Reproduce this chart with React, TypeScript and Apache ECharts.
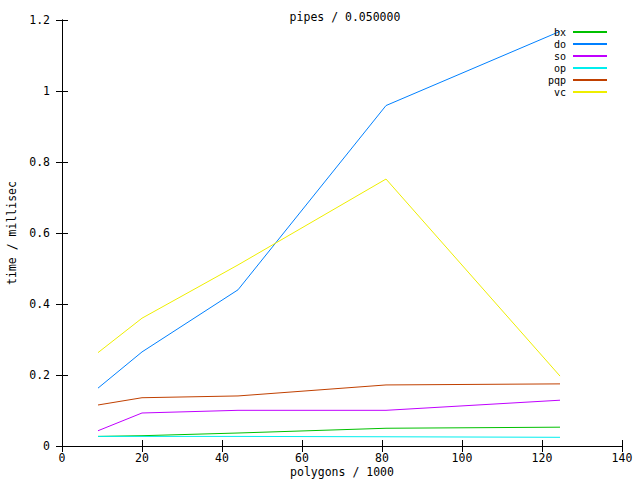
import React, { useEffect, useRef } from "react";
import * as echarts from "echarts";

const xValues = [9, 20, 44, 81, 124.5];
const seriesNames = ["bx", "do", "so", "op", "pqp", "vc"];
const bx = [0.027, 0.029, 0.0366, 0.05, 0.053];
const doVals = [0.163, 0.265, 0.44, 0.959, 1.168];
const so = [0.043, 0.093, 0.1005, 0.1005, 0.129];
const op = [0.027, 0.027, 0.027, 0.026, 0.0245];
const pqp = [0.1155, 0.136, 0.141, 0.172, 0.175];
const vc = [0.263, 0.36, 0.51, 0.752, 0.197];
const colors = ["#00c000", "#0080ff", "#c000ff", "#00eeee", "#c04000", "#eeee00"];
const title = "pipes / 0.050000";
const xTitle = "polygons / 1000";
const yTitle = "time / millisec";

const FONT = "'DejaVu Sans Mono', 'Liberation Mono', monospace";
const FS = 11.5;

export default function App() {
  const ref = useRef<HTMLDivElement>(null);
  useEffect(() => {
    if (!ref.current) return;
    const chart = echarts.init(ref.current, null, { renderer: "svg" });
    const all = [bx, doVals, so, op, pqp, vc];
    const series = all.map((vals, i) => ({
      name: seriesNames[i],
      type: "line",
      data: vals.map((v, j) => [xValues[j], v]),
      showSymbol: false,
      symbol: "none",
      lineStyle: { color: colors[i], width: 1 },
      itemStyle: { color: colors[i] },
      xAxisIndex: 0,
      yAxisIndex: 0,
    }));
    const tickStyle = { show: true, inside: true, length: 6, lineStyle: { color: "#000", width: 1 } };
    chart.setOption({
      animation: false,
      backgroundColor: "#fff",
      textStyle: { fontFamily: FONT },
      title: {
        text: title,
        left: 340,
        top: 6,
        textAlign: "center",
        textStyle: { fontFamily: FONT, fontSize: FS, fontWeight: "normal", color: "#000" },
      },
      legend: {
        orient: "vertical",
        right: 33,
        top: 26,
        padding: 0,
        align: "right",
        itemWidth: 34,
        itemHeight: 2,
        itemGap: 0,
        icon: "rect",
        data: seriesNames.map((n, i) => ({ name: n, itemStyle: { color: colors[i] } })),
        textStyle: { fontFamily: FONT, fontSize: 10, color: "#000", lineHeight: 12, padding: [0, 2, 0, 0] },
      },
      grid: { left: 62, right: 18, top: 20, bottom: 34, containLabel: false, outerBoundsMode: "none", show: false },
      xAxis: [
        {
          type: "value",
          min: 0,
          max: 140,
          interval: 20,
          position: "bottom",
          name: xTitle,
          nameLocation: "middle",
          nameGap: 20,
          nameMoveOverlap: false,
          nameTextStyle: { fontFamily: FONT, fontSize: FS, color: "#000", lineHeight: 12 },
          axisLine: { show: true, lineStyle: { color: "#000", width: 1 } },
          axisTick: tickStyle,
          axisLabel: { fontFamily: FONT, fontSize: FS, color: "#000", margin: 6, lineHeight: 12 },
          splitLine: { show: false },
        },
        {
          type: "value",
          min: 0,
          max: 140,
          interval: 20,
          position: "top",
          axisLine: { show: true, lineStyle: { color: "#000", width: 1 } },
          axisTick: tickStyle,
          axisLabel: { show: false },
          splitLine: { show: false },
        },
      ],
      yAxis: [
        {
          type: "value",
          min: 0,
          max: 1.2,
          interval: 0.2,
          position: "left",
          name: yTitle,
          nameLocation: "middle",
          nameGap: 44,
          nameMoveOverlap: false,
          nameRotate: 90,
          nameTextStyle: { fontFamily: FONT, fontSize: FS, color: "#000" },
          axisLine: { show: true, lineStyle: { color: "#000", width: 1 } },
          axisTick: tickStyle,
          axisLabel: { fontFamily: FONT, fontSize: FS, color: "#000", margin: 12 },
          splitLine: { show: false },
        },
        {
          type: "value",
          min: 0,
          max: 1.2,
          interval: 0.2,
          position: "right",
          axisLine: { show: true, lineStyle: { color: "#000", width: 1 } },
          axisTick: tickStyle,
          axisLabel: { show: false },
          splitLine: { show: false },
        },
      ],
      series,
    });
    return () => chart.dispose();
  }, []);
  return <div ref={ref} style={{ width: 640, height: 480, position: "fixed", left: 0, top: 0 }} />;
}
